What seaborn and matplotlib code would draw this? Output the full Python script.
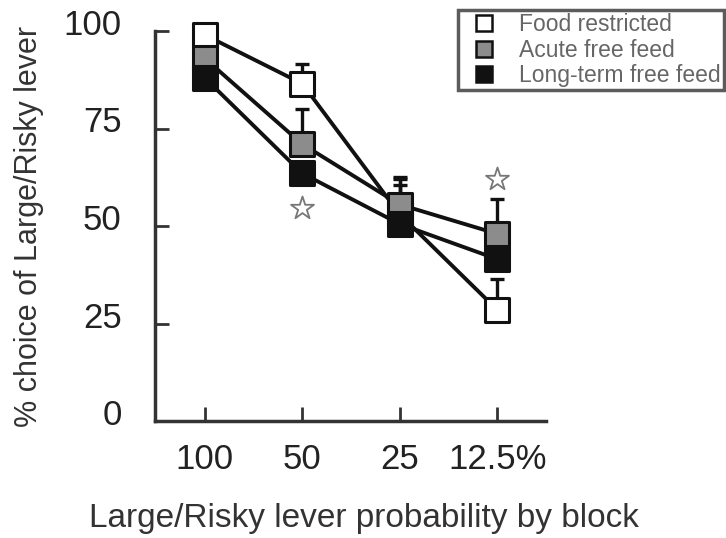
import numpy as np
import pandas as pd
import matplotlib
matplotlib.use("Agg")
import matplotlib.pyplot as plt
import matplotlib.transforms as mtransforms
from matplotlib.lines import Line2D
import seaborn as sns

# ---- data ----
blocks = ["100", "50", "25", "12.5%"]
groups = ["Food restricted", "Acute free feed", "Long-term free feed"]
food_restricted = [99, 86.5, 53, 28.5]
acute_free = [93, 71, 55.5, 48]
longterm_free = [88, 63.5, 50.5, 41.5]
food_restricted_err = [1, 5, 9, 8]
acute_free_err = [1.5, 9, 7, 9]
longterm_free_err = [1, 2, 10, 3]
star_blocks = [1, 3]
star_values = [54.5, 62]
yticks = [0, 25, 50, 75, 100]

values = [food_restricted, acute_free, longterm_free]
errs = [food_restricted_err, acute_free_err, longterm_free_err]
rows = []
for g, vals, es in zip(groups, values, errs):
    for i, (v, e) in enumerate(zip(vals, es)):
        rows.append({"group": g, "pos": i, "value": v, "err": e})
df = pd.DataFrame(rows)

face = {"Food restricted": "#ffffff", "Acute free feed": "#8c8c8c",
        "Long-term free feed": "#111111"}
black = {g: "#111111" for g in groups}

sns.set_style("white")
plt.rcParams["font.family"] = ["Liberation Sans", "DejaVu Sans"]

fig = plt.figure(figsize=(7.26, 5.38), dpi=100)
ax = fig.add_axes([155/726, 1-421/538, (546-155)/726, (421-31)/538])

sns.lineplot(data=df, x="pos", y="value", hue="group", palette=black,
             linewidth=2.8, legend=False, ax=ax, zorder=2)
for g in groups:
    sub = df[df.group == g]
    ax.errorbar(sub["pos"], sub["value"], yerr=[np.zeros(len(sub)), sub["err"]],
                fmt="none", ecolor="#111111", elinewidth=2.4, capsize=5,
                capthick=2.4, zorder=3)
for g in groups:
    sub = df[df.group == g]
    sns.scatterplot(data=sub, x="pos", y="value", color=face[g], marker="s",
                    s=285, edgecolor="#111111", linewidth=2.2, legend=False,
                    ax=ax, zorder=4, clip_on=False)
sns.scatterplot(x=star_blocks, y=star_values, marker="*", s=300,
                color="white", edgecolor="#777777", linewidth=1.3,
                legend=False, ax=ax, zorder=5)

ax.set_xlim(-0.51, 3.5)
ax.set_ylim(0, 100)
ax.set_xticks(range(len(blocks)))
ax.set_xticklabels(blocks)
ax.set_yticks(yticks)
ax.set_yticklabels([str(t) for t in yticks])
for s in ["top", "right"]:
    ax.spines[s].set_visible(False)
for s in ["left", "bottom"]:
    ax.spines[s].set_color("#333333")
    ax.spines[s].set_linewidth(2.5)
ax.tick_params(axis="both", direction="in", length=10, width=2,
               color="#333333", labelsize=25, labelcolor="#222222",
               bottom=True, left=True)
ax.tick_params(axis="y", pad=24)
ax.tick_params(axis="x", pad=16)
off = mtransforms.ScaledTranslation(0, 9/100, fig.dpi_scale_trans)
for lab in ax.get_yticklabels():
    lab.set_transform(lab.get_transform() + off)

ax.set_xlabel("Large/Risky lever probability by block", fontsize=24,
              color="#333333")
ax.xaxis.set_label_coords((364-155)/(546-155), -(518-421)/(421-31), transform=ax.transAxes)
ax.xaxis.label.set_va("center")
ax.set_ylabel("% choice of Large/Risky lever", fontsize=22,
              color="#333333", labelpad=14)

handles = [Line2D([], [], marker="s", linestyle="none", markersize=11,
                  markerfacecolor=face[g], markeredgecolor="#111111",
                  markeredgewidth=1.8) for g in groups]
leg = fig.legend(handles, groups, loc="upper left",
                 bbox_to_anchor=(458/726, 1-10/538), fontsize=16.5,
                 frameon=True, fancybox=False, edgecolor="#333333",
                 labelcolor="#666666", handlelength=2.0, handletextpad=0.5,
                 borderpad=0.15, labelspacing=0.1, borderaxespad=0)
leg.get_frame().set_linewidth(2.5)

fig.savefig("out.png", dpi=100, facecolor="white")
